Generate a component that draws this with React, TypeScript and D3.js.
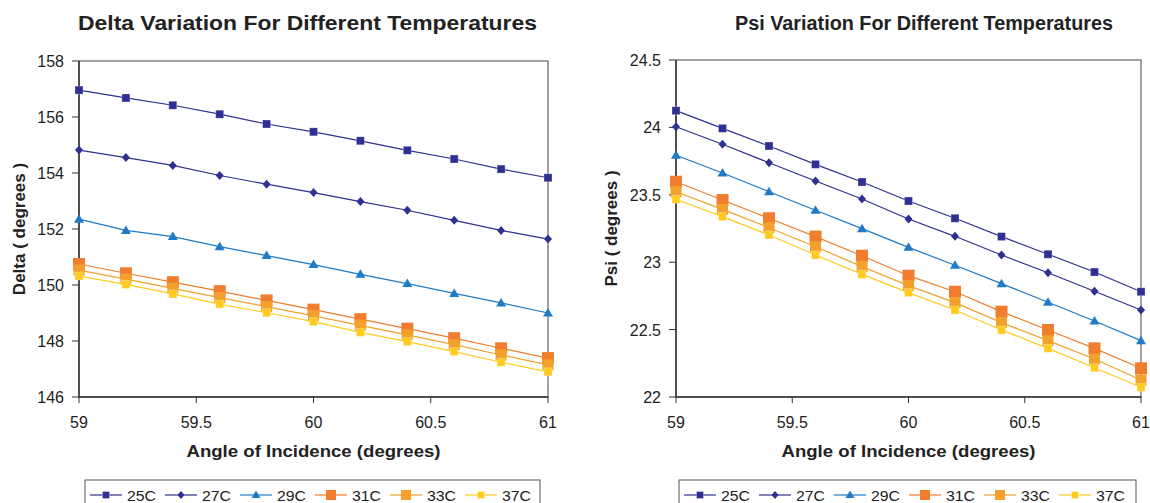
import React from "react";
import * as d3 from "d3";

const angles = [59, 59.2, 59.4, 59.6, 59.8, 60, 60.2, 60.4, 60.6, 60.8, 61];
const seriesNames = ["25C", "27C", "29C", "31C", "33C", "37C"];

const delta25 = [156.96, 156.68, 156.42, 156.1, 155.75, 155.47, 155.15, 154.81, 154.5, 154.14, 153.83];
const delta27 = [154.82, 154.55, 154.27, 153.91, 153.6, 153.3, 152.98, 152.67, 152.31, 151.95, 151.64];
const delta29 = [152.35, 151.95, 151.73, 151.37, 151.05, 150.73, 150.38, 150.05, 149.7, 149.36, 149.0];
const delta31 = [150.75, 150.42, 150.1, 149.78, 149.45, 149.12, 148.78, 148.44, 148.1, 147.74, 147.39];
const delta33 = [150.53, 150.21, 149.88, 149.55, 149.23, 148.9, 148.56, 148.22, 147.87, 147.5, 147.15];
const delta37 = [150.32, 150.02, 149.68, 149.32, 149.01, 148.69, 148.31, 147.98, 147.62, 147.24, 146.9];

const psi25 = [24.124, 23.993, 23.862, 23.726, 23.595, 23.454, 23.326, 23.19, 23.059, 22.927, 22.781];
const psi27 = [24.005, 23.875, 23.738, 23.602, 23.469, 23.32, 23.192, 23.053, 22.922, 22.784, 22.645];
const psi29 = [23.793, 23.662, 23.523, 23.385, 23.249, 23.11, 22.977, 22.841, 22.703, 22.564, 22.418];
const psi31 = [23.597, 23.461, 23.326, 23.19, 23.048, 22.9, 22.781, 22.633, 22.497, 22.361, 22.213];
const psi33 = [23.523, 23.392, 23.256, 23.115, 22.967, 22.826, 22.7, 22.552, 22.418, 22.282, 22.126];
const psi37 = [23.467, 23.338, 23.202, 23.053, 22.91, 22.774, 22.645, 22.497, 22.361, 22.217, 22.072];

const xTicks = [59, 59.5, 60, 60.5, 61];
const deltaTicks = [146, 148, 150, 152, 154, 156, 158];
const psiTicks = [22, 22.5, 23, 23.5, 24, 24.5];

const colors = ["#2E3192", "#2E3192", "#1F7BC6", "#F07E2E", "#F2A12C", "#FFCB1F"];
const markers = ["square", "diamond", "triangle", "bigsquare", "bigsquare", "square"];
const markerSizes = [8, 8, 9, 12, 11, 8];

const FONT = "'Liberation Sans', Arial, sans-serif";

function Marker({ type, x, y, size, color }: { type: string; x: number; y: number; size: number; color: string }) {
  const h = size / 2;
  if (type === "square" || type === "bigsquare") {
    return <rect x={x - h} y={y - h} width={size} height={size} fill={color} stroke={type === "square" ? "#ffffff" : "none"} strokeOpacity={0.35} strokeWidth={0.8} />;
  }
  if (type === "diamond") {
    return <path d={`M${x},${y - h - 0.5}L${x + h},${y}L${x},${y + h + 0.5}L${x - h},${y}Z`} fill={color} />;
  }
  return <path d={`M${x},${y - h - 0.5}L${x + h + 0.5},${y + h - 1}L${x - h - 0.5},${y + h - 1}Z`} fill={color} />;
}

function Panel({
  left, right, top, bottom, yDomain, yTicks, data, title, titleX, titleLen, yLabel, yLabelX,
}: {
  left: number; right: number; top: number; bottom: number; yDomain: [number, number];
  yTicks: number[]; data: number[][]; title: string; titleX: number; titleLen: number; yLabel: string; yLabelX: number;
}) {
  const x = d3.scaleLinear().domain([59, 61]).range([left, right]);
  const y = d3.scaleLinear().domain(yDomain).range([bottom, top]);
  const line = d3.line<number>().x((_, i) => x(angles[i])).y((v) => y(v));
  const cx = (left + right) / 2;
  return (
    <g>
      <text x={titleX} y={30} textAnchor="middle" fontFamily={FONT} fontWeight="bold" fontSize={19.5} fill="#222"
        textLength={titleLen} lengthAdjust="spacingAndGlyphs">{title}</text>
      <rect x={left} y={top} width={right - left} height={bottom - top} fill="none" stroke="#555" strokeWidth={1.1} />
      <line x1={left} y1={top} x2={left} y2={bottom} stroke="#333" strokeWidth={1.5} />
      <line x1={left} y1={bottom} x2={right} y2={bottom} stroke="#333" strokeWidth={1.5} />
      {yTicks.map((t) => (
        <g key={"y" + t}>
          <line x1={left - 7} x2={left} y1={y(t)} y2={y(t)} stroke="#333" strokeWidth={1} />
          <text x={left - 15} y={y(t) + 6} textAnchor="end" fontFamily={FONT} fontSize={16} fill="#222">{String(t)}</text>
        </g>
      ))}
      {xTicks.map((t) => (
        <g key={"x" + t}>
          <line x1={x(t)} x2={x(t)} y1={bottom} y2={bottom + 6} stroke="#333" strokeWidth={1} />
          <text x={x(t)} y={bottom + 31} textAnchor="middle" fontFamily={FONT} fontSize={16} fill="#222">{String(t)}</text>
        </g>
      ))}
      <text x={cx} y={457} textAnchor="middle" fontFamily={FONT} fontWeight="bold" fontSize={17} fill="#222"
        textLength={254} lengthAdjust="spacingAndGlyphs">Angle of Incidence (degrees)</text>
      <text transform={`translate(${yLabelX},${(top + bottom) / 2}) rotate(-90)`} textAnchor="middle" fontFamily={FONT} fontWeight="bold" fontSize={17} fill="#222">{yLabel}</text>
      {data.map((s, si) => (
        <g key={"s" + si}>
          <path d={line(s) || ""} fill="none" stroke={colors[si]} strokeWidth={1.2} />
          {s.map((v, i) => (
            <Marker key={i} type={markers[si]} x={x(angles[i])} y={y(v)} size={markerSizes[si]} color={colors[si]} />
          ))}
        </g>
      ))}
    </g>
  );
}

function Legend({ x0, y0, w }: { x0: number; y0: number; w: number }) {
  return (
    <g>
      <rect x={x0} y={y0} width={w} height={40} fill="#fff" stroke="#555" strokeWidth={1} />
      {seriesNames.map((n, i) => {
        const lx = x0 + 5 + i * 75;
        const cy = y0 + 15;
        return (
          <g key={n}>
            <line x1={lx} x2={lx + 32} y1={cy} y2={cy} stroke={colors[i]} strokeWidth={1.2} />
            <Marker type={markers[i]} x={lx + 16} y={cy} size={i === 3 || i === 4 ? 10 : i === 2 ? 8 : 7} color={colors[i]} />
            <text x={lx + 37} y={cy + 5.5} fontFamily={FONT} fontSize={15} fill="#222"
              textLength={29} lengthAdjust="spacingAndGlyphs">{n}</text>
          </g>
        );
      })}
    </g>
  );
}

export default function App() {
  return (
    <svg width={1150} height={503} style={{ position: "absolute", left: 0, top: 0, background: "#fff" }}>
      <rect x={0} y={0} width={1150} height={503} fill="#fff" />
      <Panel left={79} right={548} top={61} bottom={397} yDomain={[146, 158]} yTicks={deltaTicks}
        data={[delta25, delta27, delta29, delta31, delta33, delta37]}
        title="Delta Variation For Different Temperatures" titleX={307.5} titleLen={459}
        yLabel="Delta ( degrees )" yLabelX={25} />
      <Panel left={676} right={1141} top={60} bottom={397} yDomain={[22, 24.5]} yTicks={psiTicks}
        data={[psi25, psi27, psi29, psi31, psi33, psi37]}
        title="Psi Variation For Different Temperatures" titleX={924} titleLen={378}
        yLabel="Psi ( degrees )" yLabelX={617} />
      <Legend x0={85} y0={480} w={455} />
      <Legend x0={679} y0={480} w={457} />
    </svg>
  );
}
